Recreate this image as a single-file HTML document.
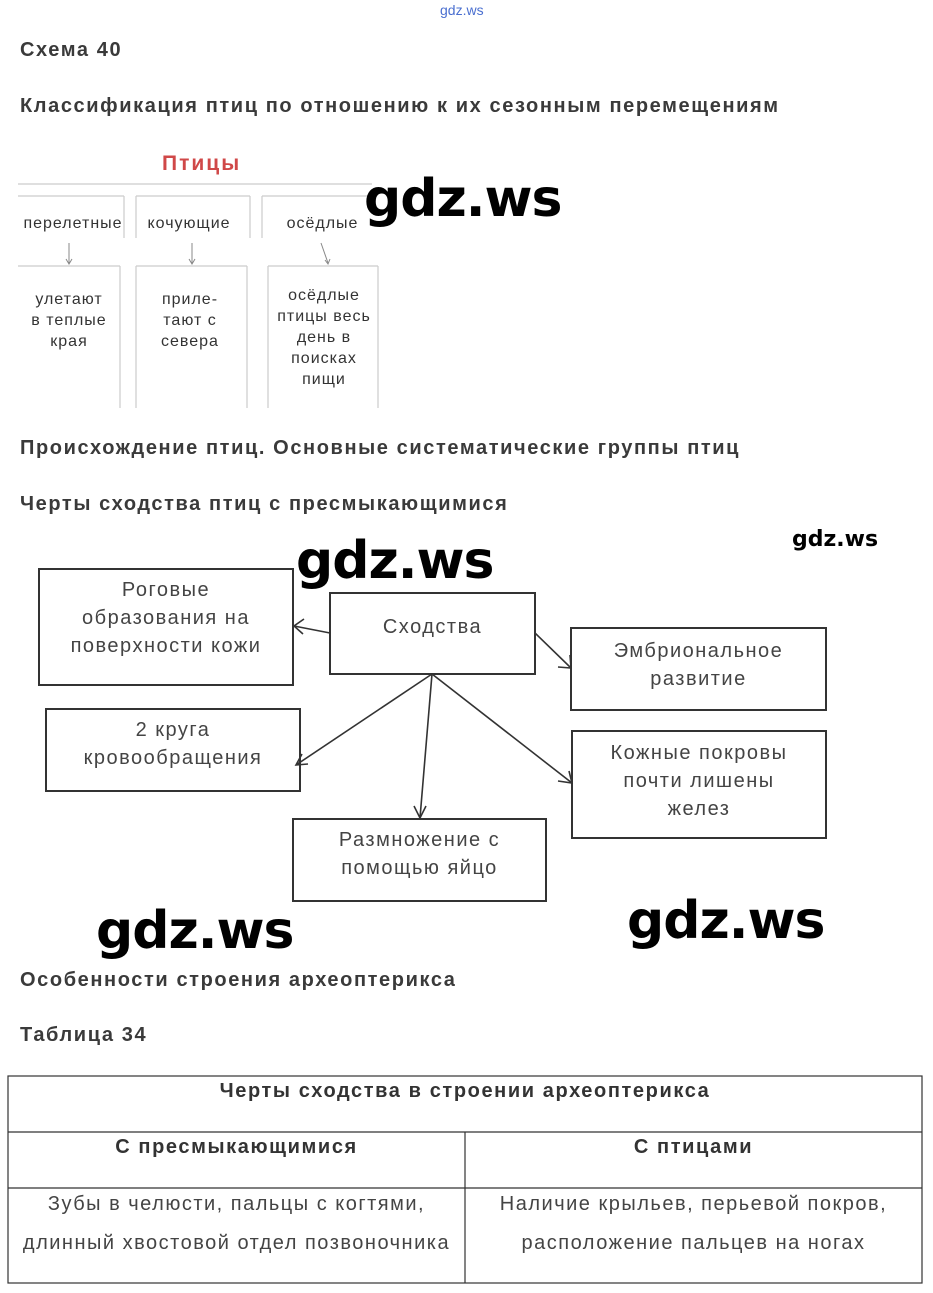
<!DOCTYPE html>
<html><head><meta charset="utf-8"><style>
body{margin:0;width:933px;height:1293px;background:#fff;position:relative;overflow:hidden;font-family:"Liberation Sans",sans-serif}
.a{position:absolute;white-space:nowrap}
.h{font-weight:bold;font-size:20px;color:#3a3a3a;letter-spacing:1.6px}
.w{font-family:"DejaVu Sans","Liberation Sans",sans-serif;font-weight:bold;color:#000;letter-spacing:-1px}
.t{position:absolute;text-align:center;color:#444;font-size:20px;line-height:28px;letter-spacing:1.5px;white-space:nowrap}
.s{position:absolute;text-align:center;color:#333;font-size:16px;line-height:21px;letter-spacing:1px;white-space:nowrap}
</style></head><body>
<div class="a" style="left:440px;top:2px;font-size:14px;color:#4a6fd0">gdz.ws</div>
<div class="a h" style="left:20px;top:39px">Схема 40</div>
<div class="a h" style="left:20px;top:95px">Классификация птиц по отношению к их сезонным перемещениям</div>
<div class="a" style="left:162px;top:152px;font-size:21px;font-weight:bold;color:#d04848;letter-spacing:2px">Птицы</div>
<svg class="a" style="left:0;top:0" width="933" height="1293">
<g stroke="#ccc" stroke-width="1.2" fill="none">
<line x1="18" y1="184" x2="372" y2="184"/>
<line x1="18" y1="196" x2="124" y2="196"/><line x1="124" y1="196" x2="124" y2="238"/>
<line x1="136" y1="196" x2="250" y2="196"/><line x1="136" y1="196" x2="136" y2="238"/><line x1="250" y1="196" x2="250" y2="238"/>
<line x1="262" y1="196" x2="372" y2="196"/><line x1="262" y1="196" x2="262" y2="238"/>
<line x1="18" y1="266" x2="120" y2="266"/><line x1="120" y1="266" x2="120" y2="408"/>
<line x1="136" y1="266" x2="247" y2="266"/><line x1="136" y1="266" x2="136" y2="408"/><line x1="247" y1="266" x2="247" y2="408"/>
<line x1="268" y1="266" x2="378" y2="266"/><line x1="268" y1="266" x2="268" y2="408"/><line x1="378" y1="266" x2="378" y2="408"/>
</g>
<g stroke="#888" stroke-width="1" fill="none">
<line x1="69" y1="243" x2="69" y2="263"/><path d="M66 259 L69 264 L72 259"/>
<line x1="192" y1="243" x2="192" y2="263"/><path d="M189 259 L192 264 L195 259"/>
<line x1="321" y1="243" x2="328" y2="263"/><path d="M325 260 L328 264 L330 259"/>
</g>
<g stroke="#333" stroke-width="2" fill="none">
<rect x="39" y="569" width="254" height="116"/>
<rect x="330" y="593" width="205" height="81"/>
<rect x="571" y="628" width="255" height="82"/>
<rect x="46" y="709" width="254" height="82"/>
<rect x="572" y="731" width="254" height="107"/>
<rect x="293" y="819" width="253" height="82"/>
</g>
<g stroke="#333" stroke-width="1.6" fill="none">
<line x1="330" y1="633" x2="294" y2="626"/><path d="M304 619 L294 626 L303 634"/>
<line x1="535" y1="633" x2="571" y2="668"/><path d="M558 667 L571 668 L570 655"/>
<line x1="432" y1="674" x2="296" y2="765"/><path d="M302 754 L296 765 L308 764"/>
<line x1="432" y1="674" x2="420" y2="818"/><path d="M414 806 L420 818 L426 806"/>
<line x1="432" y1="674" x2="572" y2="783"/><path d="M558 781 L572 783 L569 771"/>
</g>
<g stroke="#333" stroke-width="1.2" fill="none">
<rect x="8" y="1076" width="914" height="207"/>
<line x1="8" y1="1132" x2="922" y2="1132"/><line x1="8" y1="1188" x2="922" y2="1188"/>
<line x1="465" y1="1132" x2="465" y2="1283"/>
</g>
</svg>
<div class="s" style="left:18px;top:213px;width:110px">перелетные</div>
<div class="s" style="left:136px;top:213px;width:106px">кочующие</div>
<div class="s" style="left:275px;top:213px;width:95px">осёдлые</div>
<div class="s" style="left:18px;top:289px;width:102px">улетают<br>в теплые<br>края</div>
<div class="s" style="left:136px;top:289px;width:108px">приле-<br>тают с<br>севера</div>
<div class="s" style="left:268px;top:285px;width:112px">осёдлые<br>птицы весь<br>день в<br>поисках<br>пищи</div>
<div class="a h" style="left:20px;top:437px">Происхождение птиц. Основные систематические группы птиц</div>
<div class="a h" style="left:20px;top:493px">Черты сходства птиц с пресмыкающимися</div>
<div class="t" style="left:39px;top:576px;width:254px">Роговые<br>образования на<br>поверхности кожи</div>
<div class="t" style="left:330px;top:613px;width:205px">Сходства</div>
<div class="t" style="left:571px;top:637px;width:255px">Эмбриональное<br>развитие</div>
<div class="t" style="left:46px;top:716px;width:254px">2 круга<br>кровообращения</div>
<div class="t" style="left:572px;top:739px;width:254px">Кожные покровы<br>почти лишены<br>желез</div>
<div class="t" style="left:293px;top:826px;width:253px">Размножение с<br>помощью яйцо</div>
<div class="a w" style="left:364px;top:169px;font-size:52px">gdz.ws</div>
<div class="a w" style="left:296px;top:531px;font-size:52px">gdz.ws</div>
<div class="a w" style="left:96px;top:901px;font-size:52px">gdz.ws</div>
<div class="a w" style="left:627px;top:891px;font-size:52px">gdz.ws</div>
<div class="a w" style="left:792px;top:527px;font-size:22px;letter-spacing:0">gdz.ws</div>
<div class="a h" style="left:20px;top:969px">Особенности строения археоптерикса</div>
<div class="a h" style="left:20px;top:1024px">Таблица 34</div>
<div class="t" style="left:8px;top:1077px;width:914px;font-weight:bold;color:#333;letter-spacing:1.6px">Черты сходства в строении археоптерикса</div>
<div class="t" style="left:8px;top:1133px;width:457px;font-weight:bold;color:#333;letter-spacing:1.6px">С пресмыкающимися</div>
<div class="t" style="left:465px;top:1133px;width:457px;font-weight:bold;color:#333;letter-spacing:1.6px">С птицами</div>
<div class="t" style="left:8px;top:1185px;width:457px;line-height:39px">Зубы в челюсти, пальцы с когтями,<br>длинный хвостовой отдел позвоночника</div>
<div class="t" style="left:465px;top:1185px;width:457px;line-height:39px">Наличие крыльев, перьевой покров,<br>расположение пальцев на ногах</div>
</body></html>
